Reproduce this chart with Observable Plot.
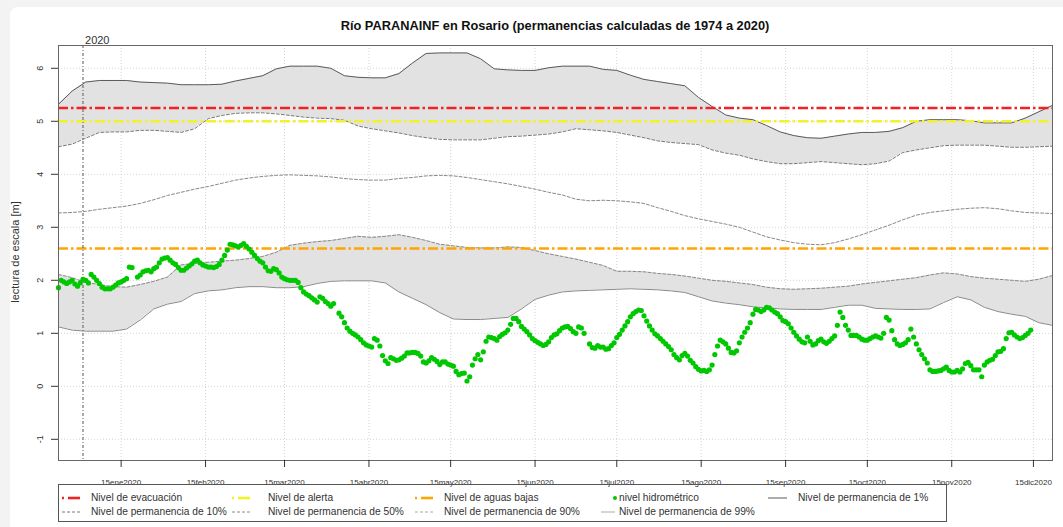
<!DOCTYPE html>
<html><head><meta charset="utf-8">
<script src="https://cdn.jsdelivr.net/npm/d3@7"></script>
<script src="https://cdn.jsdelivr.net/npm/@observablehq/plot@0.6"></script>
<style>
html,body{margin:0;padding:0;}
body{width:1063px;height:527px;background:#f3f3f3;position:relative;overflow:hidden;font-family:"Liberation Sans",Arial,Helvetica,sans-serif;color:#222;}
#card{position:absolute;left:10px;top:7px;width:1053px;height:520px;background:#fff;border-top-left-radius:8px;}
#chart{position:absolute;left:0;top:0;width:1063px;height:527px;}
#chart svg{max-width:none;width:1063px;height:527px;}
#title{position:absolute;left:58px;width:994px;top:18px;text-align:center;font-weight:bold;font-size:12.8px;color:#111;}
#ylab{position:absolute;left:15px;top:252px;transform:translate(-50%,-50%) rotate(-90deg);font-size:11px;color:#333;white-space:nowrap;}
#legend{position:absolute;left:58px;top:484px;width:887px;height:36px;border:1px solid #555;box-sizing:content-box;}
.li{position:absolute;font-size:10.2px;color:#333;white-space:nowrap;line-height:12px;}
.ls{position:absolute;}
</style></head>
<body>
<div id="card"></div>
<div id="chart"></div>
<div id="title">Río PARANAINF en Rosario (permanencias calculadas de 1974 a 2020)</div>
<div id="ylab">lectura de escala [m]</div>
<div id="legend"></div>
<script>
// ---- data ----
const seriesStart = [2019, 11, 23];   // first day (Dec 23 2019)
const gridStepDays = 5;               // percentile curves sampled every 5 days
const yTicks = [-1, 0, 1, 2, 3, 4, 5, 6];
const mesES = ["ene","feb","mar","abr","may","jun","jul","ago","sep","oct","nov","dic"];
const xTickMonths = [0,1,2,3,4,5,6,7,8,9,10,11]; // 15th of each month 2020
const nivelEvacuacion = 5.25;
const nivelAlerta = 5.0;
const nivelAguasBajas = 2.6;

const p1 = [5.32,5.57,5.74,5.77,5.77,5.77,5.74,5.73,5.72,5.69,
5.69,5.69,5.70,5.76,5.81,5.86,5.99,6.04,6.04,6.04,
6.00,5.86,5.83,5.82,5.82,5.90,6.10,6.28,6.29,6.29,
6.29,6.18,5.99,5.97,5.96,5.96,6.01,6.04,6.04,6.04,
5.98,5.96,5.87,5.79,5.75,5.71,5.67,5.45,5.28,5.12,
5.06,5.03,4.92,4.80,4.73,4.69,4.68,4.72,4.76,4.79,
4.79,4.81,4.88,5.00,5.03,5.03,5.03,5.01,4.97,4.97,
4.97,5.06,5.18,5.30];
const p10 = [4.52,4.57,4.68,4.79,4.80,4.80,4.83,4.83,4.81,4.79,
4.86,5.05,5.11,5.15,5.16,5.16,5.14,5.11,5.08,5.06,
5.05,5.02,4.91,4.86,4.82,4.78,4.73,4.69,4.66,4.65,
4.65,4.65,4.68,4.71,4.72,4.74,4.76,4.80,4.86,4.84,
4.82,4.79,4.74,4.69,4.63,4.60,4.58,4.56,4.46,4.40,
4.36,4.29,4.24,4.20,4.20,4.22,4.24,4.22,4.20,4.18,
4.20,4.25,4.41,4.46,4.50,4.54,4.55,4.55,4.55,4.53,
4.51,4.51,4.52,4.53];
const p50 = [3.27,3.28,3.30,3.34,3.37,3.40,3.45,3.52,3.60,3.66,
3.72,3.77,3.83,3.89,3.93,3.96,3.98,3.99,3.98,3.97,
3.95,3.92,3.90,3.89,3.89,3.92,3.94,3.97,3.98,3.97,
3.94,3.90,3.86,3.82,3.77,3.72,3.66,3.61,3.53,3.50,
3.51,3.50,3.48,3.45,3.37,3.30,3.22,3.16,3.11,3.06,
3.00,2.91,2.82,2.76,2.71,2.68,2.67,2.71,2.78,2.86,
2.95,3.04,3.14,3.23,3.28,3.31,3.34,3.36,3.37,3.35,
3.31,3.28,3.27,3.26];
const p90 = [2.11,2.05,1.96,1.92,1.88,1.87,1.92,1.98,2.06,2.29,
2.32,2.34,2.36,2.38,2.41,2.45,2.53,2.66,2.70,2.73,
2.75,2.79,2.83,2.81,2.83,2.86,2.81,2.75,2.68,2.65,
2.62,2.61,2.61,2.63,2.62,2.56,2.50,2.45,2.40,2.34,
2.28,2.17,2.17,2.16,2.13,2.11,2.08,2.04,2.00,1.98,
1.95,1.92,1.87,1.84,1.83,1.84,1.85,1.87,1.89,1.93,
1.96,1.99,2.02,2.05,2.10,2.14,2.12,2.07,2.04,2.02,
2.00,1.98,2.02,2.09];
const p99 = [1.12,1.06,1.04,1.04,1.04,1.08,1.25,1.46,1.55,1.60,
1.75,1.80,1.82,1.86,1.88,1.88,1.86,1.86,1.88,1.94,
1.98,1.99,1.99,1.99,1.95,1.78,1.66,1.54,1.39,1.27,
1.26,1.26,1.28,1.30,1.46,1.64,1.72,1.78,1.80,1.81,
1.82,1.83,1.84,1.83,1.82,1.80,1.77,1.69,1.61,1.57,
1.54,1.50,1.48,1.46,1.45,1.45,1.45,1.49,1.53,1.53,
1.47,1.46,1.45,1.45,1.46,1.58,1.69,1.63,1.49,1.41,
1.36,1.32,1.20,1.15];
// daily river level from Dec 23 2019
const nivelHidrometrico = [
1.86,2.00,1.97,1.94,1.97,2.00,1.93,1.89,1.95,2.02,
2.00,1.95,2.11,2.06,2.00,1.94,1.87,1.84,1.84,1.84,
1.87,1.91,1.95,1.97,2.00,2.03,2.25,2.24,null,2.06,
2.10,2.16,2.18,2.19,2.16,2.22,2.25,2.33,2.40,2.42,
2.43,2.38,2.33,2.30,2.24,2.19,2.19,2.23,2.27,2.31,
2.36,2.38,2.33,2.29,2.27,2.25,2.25,2.24,2.26,2.30,
2.38,2.47,2.57,2.68,2.67,2.65,2.63,2.66,2.69,2.64,
2.59,2.53,2.47,2.41,2.36,2.33,2.25,2.18,2.17,2.22,
2.20,2.14,2.06,2.03,2.01,2.00,2.00,2.00,1.96,1.86,
1.78,1.74,1.71,1.67,1.63,1.59,1.69,1.66,1.60,1.56,
1.51,1.56,null,1.38,1.31,1.20,1.10,1.04,1.00,0.97,
0.93,0.88,0.82,0.78,0.76,0.74,0.90,0.87,0.76,0.58,
0.48,0.43,0.54,0.52,0.49,0.50,0.53,0.57,0.63,0.63,
0.64,0.64,0.62,0.57,0.46,0.44,0.48,0.54,0.51,0.47,
0.41,0.46,0.46,0.42,0.40,0.38,0.28,0.22,0.24,0.25,
0.10,0.18,0.40,0.52,0.60,0.50,0.65,0.85,0.93,0.92,
0.90,0.87,0.94,0.98,1.01,1.06,1.17,1.28,1.28,1.22,
1.13,1.08,1.03,0.97,0.90,0.86,0.83,0.80,0.77,0.79,
0.84,0.92,0.97,0.99,1.05,1.10,1.12,1.13,1.09,1.03,
1.00,1.12,1.10,1.00,null,0.80,0.73,0.72,0.77,0.74,
0.74,0.70,0.71,0.77,0.82,0.92,0.98,1.06,1.14,1.22,
1.31,1.37,1.41,1.44,1.43,1.33,1.23,1.14,1.06,0.99,
0.95,0.90,0.85,0.80,0.75,0.69,0.60,0.54,0.50,0.58,
0.62,0.57,0.49,0.44,0.37,0.32,0.29,0.30,0.28,0.31,
0.40,0.60,0.76,0.87,0.84,0.80,0.72,0.64,0.63,0.67,
0.82,0.93,1.02,1.10,1.20,1.36,1.45,1.44,1.41,1.44,
1.49,1.48,1.44,1.40,1.37,1.31,1.24,1.22,1.18,1.10,
1.02,0.95,0.89,0.84,0.82,0.93,0.85,0.78,0.80,0.86,
0.89,0.84,0.81,0.85,0.90,0.95,1.15,1.40,1.30,1.15,
1.06,0.96,0.96,0.96,0.93,0.89,0.87,0.87,0.90,0.93,
0.95,0.93,0.91,1.00,1.30,1.25,1.05,0.88,0.80,0.77,
0.79,0.82,0.88,1.08,0.93,0.80,0.69,0.60,0.52,0.44,
0.31,0.28,0.28,0.29,0.30,0.33,0.36,0.30,0.27,0.27,
0.30,0.27,0.33,0.43,0.45,0.39,0.31,0.31,0.31,0.18,
0.40,0.46,0.49,0.51,0.58,0.65,0.66,0.71,0.90,1.01,
1.02,0.97,0.93,0.90,0.92,0.96,1.00,1.06];

// ---- build tables ----
const DAY = 864e5;
const t0 = Date.UTC(...seriesStart);
const bands = p1.map((v, i) => ({date: new Date(t0 + i * gridStepDays * DAY), p1: v, p10: p10[i], p50: p50[i], p90: p90[i], p99: p99[i]}));
const nivel = nivelHidrometrico.map((v, i) => ({date: new Date(t0 + i * DAY), v})).filter(d => d.v != null);
const xTicks = xTickMonths.map(m => new Date(Date.UTC(2020, m, 15)));
const yearStart = [new Date(Date.UTC(2020, 0, 1))];
const xDomain = [new Date(t0), new Date(t0 + 365 * DAY)];
const fmt = d => `${d.getUTCDate()}${mesES[d.getUTCMonth()]}${d.getUTCFullYear()}`;

const W = 1063, H = 527, mL = 58, mR = 11, mT = 45, mB = 67;
const frameW = W - mL - mR, frameH = H - mT - mB, tick = 7;
const dashDot = "10,3,2.5,3";
const chart = Plot.plot({
  width: W, height: H,
  marginLeft: mL, marginRight: mR, marginTop: mT, marginBottom: mB,
  style: {background: "transparent", fontFamily: "Liberation Sans, Arial, sans-serif", color: "#333"},
  x: {type: "utc", domain: xDomain, axis: null},
  y: {domain: [-1.40, 6.43], axis: null},
  marks: [
    Plot.gridY(yTicks, {stroke: "#d4d4d4", strokeOpacity: 1, strokeDasharray: "1,2"}),
    Plot.gridX(xTicks, {stroke: "#d4d4d4", strokeOpacity: 1, strokeDasharray: "1,2"}),
    Plot.areaY(bands, {x: "date", y1: "p10", y2: "p1", fill: "#e2e2e2"}),
    Plot.areaY(bands, {x: "date", y1: "p99", y2: "p90", fill: "#e2e2e2"}),
    Plot.line(bands, {x: "date", y: "p1", stroke: "#5a5a5a", strokeWidth: 1}),
    Plot.line(bands, {x: "date", y: "p10", stroke: "#777", strokeWidth: 1, strokeDasharray: "3,2"}),
    Plot.line(bands, {x: "date", y: "p50", stroke: "#888", strokeWidth: 1, strokeDasharray: "3,2"}),
    Plot.line(bands, {x: "date", y: "p90", stroke: "#888", strokeWidth: 1, strokeDasharray: "3,2"}),
    Plot.line(bands, {x: "date", y: "p99", stroke: "#8a8a8a", strokeWidth: 1}),
    Plot.ruleY([nivelEvacuacion], {stroke: "#f02222", strokeWidth: 2.6, strokeDasharray: dashDot}),
    Plot.ruleY([nivelAlerta], {stroke: "#f2f22a", strokeWidth: 2.6, strokeDasharray: dashDot}),
    Plot.ruleY([nivelAguasBajas], {stroke: "#ffa500", strokeWidth: 2.6, strokeDasharray: dashDot}),
    Plot.ruleX(yearStart, {stroke: "#555", strokeWidth: 1, strokeDasharray: "3,2,1,2"}),
    Plot.dot(nivel, {x: "date", y: "v", r: 2.6, fill: "#00c800", stroke: "none"}),
    Plot.text(yearStart, {x: d => d, text: ["2020"], frameAnchor: "top", lineAnchor: "bottom", textAnchor: "start", dx: 2, dy: -2, fontSize: 11, fill: "#333"}),
    Plot.frame({stroke: "#666"}),
    // x axis: tick marks below the frame and labels
    Plot.tickX(xTicks, {x: d => d, stroke: "#333", strokeWidth: 1, insetTop: frameH, insetBottom: -tick}),
    Plot.text(xTicks, {x: d => d, text: fmt, frameAnchor: "bottom", lineAnchor: "bottom", dy: 24, fontSize: 8, fill: "#333"}),
    // y axis: tick marks left of the frame and rotated labels
    Plot.tickY(yTicks, {y: d => d, stroke: "#333", strokeWidth: 1, insetLeft: -tick, insetRight: frameW}),
    Plot.text(yTicks, {y: d => d, text: d => String(d), frameAnchor: "left", dx: -18, rotate: -90, textAnchor: "middle", lineAnchor: "middle", fontSize: 9, fill: "#333"})
  ]
});
document.getElementById("chart").appendChild(chart);

// ---- legend ----
const legendItems = [
  {label: "Nivel de evacuación", kind: "dd", color: "#f02222", col: 0, row: 0},
  {label: "Nivel de alerta", kind: "dd", color: "#f2f22a", col: 1, row: 0},
  {label: "Nivel de aguas bajas", kind: "dd", color: "#ffa500", col: 2, row: 0},
  {label: "nivel hidrométrico", kind: "dot", color: "#00c800", col: 3, row: 0},
  {label: "Nivel de permanencia de 1%", kind: "solid", color: "#5a5a5a", col: 4, row: 0},
  {label: "Nivel de permanencia de 10%", kind: "dash", color: "#777", col: 0, row: 1},
  {label: "Nivel de permanencia de 50%", kind: "dash", color: "#888", col: 1, row: 1},
  {label: "Nivel de permanencia de 90%", kind: "dash", color: "#aaa", col: 2, row: 1},
  {label: "Nivel de permanencia de 99%", kind: "solid", color: "#aaa", col: 3, row: 1}
];
const colSym = [2, 172, 355, 538, 708];   // relative to legend box
const colText = [32, 209, 385, 560, 739];
const rowY = [13, 27];
const leg = document.getElementById("legend");
for (const it of legendItems) {
  const sx = colSym[it.col], ty = rowY[it.row];
  const s = document.createElementNS("http://www.w3.org/2000/svg", "svg");
  s.setAttribute("width", 22); s.setAttribute("height", 8);
  s.setAttribute("class", "ls");
  s.style.left = sx + "px"; s.style.top = (ty - 4) + "px";
  let inner = "";
  if (it.kind === "dd") inner = `<line x1="1" x2="3" y1="4" y2="4" stroke="${it.color}" stroke-width="2.6"/><line x1="7" x2="19" y1="4" y2="4" stroke="${it.color}" stroke-width="2.6"/>`;
  else if (it.kind === "dot") inner = `<circle cx="18" cy="4" r="2" fill="${it.color}"/>`;
  else if (it.kind === "solid") inner = `<line x1="${it.col===3?4:1}" x2="${it.col===3?18:20}" y1="4" y2="4" stroke="${it.color}" stroke-width="1"/>`;
  else inner = `<line x1="1" x2="20" y1="4" y2="4" stroke="${it.color}" stroke-width="1" stroke-dasharray="3,2"/>`;
  s.innerHTML = inner;
  leg.appendChild(s);
  const t = document.createElement("div");
  t.className = "li"; t.textContent = it.label;
  t.style.left = colText[it.col] + "px"; t.style.top = (ty - 6) + "px";
  leg.appendChild(t);
}
</script>
</body></html>
